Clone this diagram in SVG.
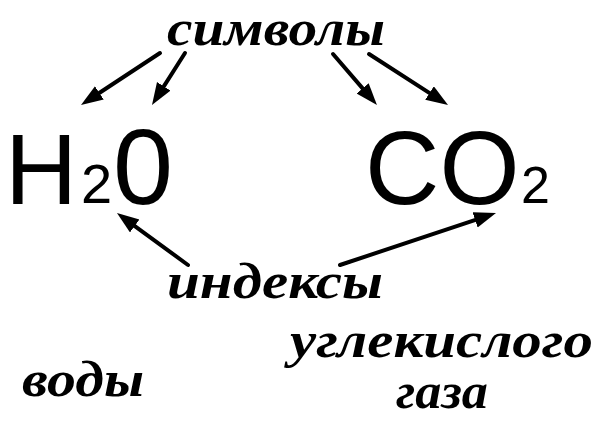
<svg xmlns="http://www.w3.org/2000/svg" width="601" height="421" viewBox="0 0 601 421">
<defs>
<style>
.lbl{font-family:"Liberation Serif","DejaVu Serif",serif;font-style:italic;font-weight:bold;font-size:50px;fill:#000}
.f{font-family:"Liberation Sans",Arial,sans-serif;fill:#000}
.c{stroke:#000;stroke-width:4;fill:none;stroke-linecap:round}
</style>
<marker id="ah" markerUnits="userSpaceOnUse" markerWidth="24" markerHeight="18" refX="2" refY="8" orient="auto">
<path d="M0,0 L22,8 L0,16 Z" fill="#000"/>
</marker>
</defs>
<rect width="601" height="421" fill="#fff"/>
<g id="symbols"><text class="lbl" x="167" y="45" textLength="218" lengthAdjust="spacingAndGlyphs">символы</text></g>
<g id="h2o">
<text class="f" x="5" y="204" font-size="100">H</text>
<text class="f" x="81" y="203" font-size="56">2</text>
<text class="f" x="113" y="204" font-size="108">0</text>
</g>
<g id="co2">
<text class="f" x="365" y="204" font-size="103">CO</text>
<text class="f" x="521" y="203" font-size="52">2</text>
</g>
<g id="indices"><text class="lbl" x="167" y="298" textLength="216" lengthAdjust="spacingAndGlyphs">индексы</text></g>
<g id="water"><text class="lbl" x="22" y="396" textLength="122" lengthAdjust="spacingAndGlyphs">воды</text></g>
<g id="co2-name">
<text class="lbl" x="290" y="357" textLength="303" lengthAdjust="spacingAndGlyphs">углекислого</text>
<text class="lbl" x="396" y="408" font-size="48" textLength="92" lengthAdjust="spacingAndGlyphs">газа</text>
</g>
<g id="connectors">
<line class="c" x1="160" y1="53" x2="97.7" y2="94" marker-end="url(#ah)"/>
<line class="c" x1="185" y1="53" x2="162.7" y2="88.1" marker-end="url(#ah)"/>
<line class="c" x1="333" y1="54" x2="363.9" y2="89.9" marker-end="url(#ah)"/>
<line class="c" x1="369" y1="54" x2="431.2" y2="94.1" marker-end="url(#ah)"/>
<line class="c" x1="188" y1="265" x2="133.1" y2="224.8" marker-end="url(#ah)"/>
<line class="c" x1="340" y1="265" x2="477" y2="219.3" marker-end="url(#ah)"/>
</g>
</svg>
